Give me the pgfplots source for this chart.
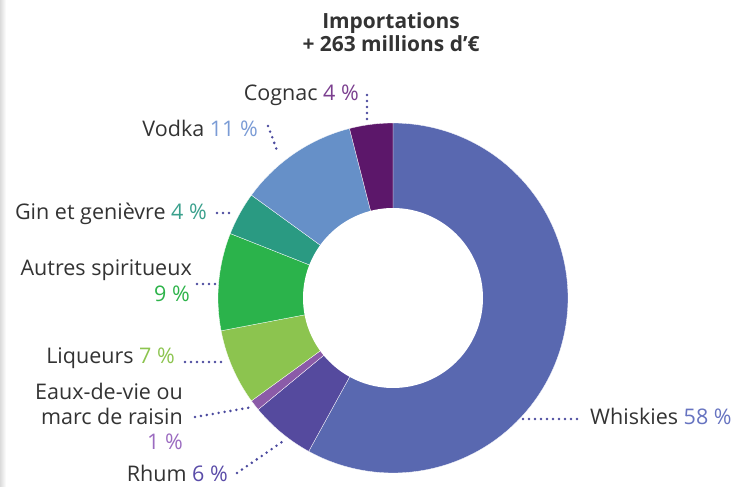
\documentclass[border=0pt]{standalone}
\usepackage{pgfplots}
\pgfplotsset{compat=1.18}
\usepackage{fontspec}
\setmainfont{Open Sans}
\definecolor{cWhisk}{HTML}{5968B0}
\definecolor{cRhum}{HTML}{554A9E}
\definecolor{cEaux}{HTML}{8B5BA8}
\definecolor{cLiq}{HTML}{8CC44F}
\definecolor{cAutres}{HTML}{2BB34B}
\definecolor{cGin}{HTML}{2A9A82}
\definecolor{cVodka}{HTML}{6690C8}
\definecolor{cCognac}{HTML}{5C176A}
\definecolor{tWhisk}{HTML}{6673C0}
\definecolor{tRhum}{HTML}{5A4CA8}
\definecolor{tEaux}{HTML}{9B6BC0}
\definecolor{tLiq}{HTML}{8CC44F}
\definecolor{tAutres}{HTML}{2DB34A}
\definecolor{tGin}{HTML}{3AA08C}
\definecolor{tVodka}{HTML}{7A9BD5}
\definecolor{tCognac}{HTML}{7B3F8F}
\definecolor{txt}{HTML}{333333}
\definecolor{lead}{HTML}{4B4A9E}
\begin{document}
\begin{tikzpicture}
\path[use as bounding box] (0,0) rectangle (735bp,487bp);
\shade[left color=black!14, right color=white] (0,0) rectangle (6bp,487bp);
\begin{axis}[at={(393bp,189bp)}, anchor=center, scale only axis,
  width=350bp, height=350bp, xmin=-175, xmax=175, ymin=-175, ymax=175,
  hide axis, clip=false]
% slices: domain = cumulative percentage, clockwise from top
\addplot[fill=cWhisk, draw=white, line width=0.3pt, domain=0:58, samples=120]  ({175*cos(90-3.6*x)},{175*sin(90-3.6*x)}) -- (axis cs:0,0) -- cycle;
\addplot[fill=cRhum, draw=white, line width=0.3pt, domain=58:64, samples=30]  ({175*cos(90-3.6*x)},{175*sin(90-3.6*x)}) -- (axis cs:0,0) -- cycle;
\addplot[fill=cEaux, draw=white, line width=0.3pt, domain=64:65, samples=10]  ({175*cos(90-3.6*x)},{175*sin(90-3.6*x)}) -- (axis cs:0,0) -- cycle;
\addplot[fill=cLiq, draw=white, line width=0.3pt, domain=65:72, samples=30]  ({175*cos(90-3.6*x)},{175*sin(90-3.6*x)}) -- (axis cs:0,0) -- cycle;
\addplot[fill=cAutres, draw=white, line width=0.3pt, domain=72:81, samples=30]  ({175*cos(90-3.6*x)},{175*sin(90-3.6*x)}) -- (axis cs:0,0) -- cycle;
\addplot[fill=cGin, draw=white, line width=0.3pt, domain=81:85, samples=20]  ({175*cos(90-3.6*x)},{175*sin(90-3.6*x)}) -- (axis cs:0,0) -- cycle;
\addplot[fill=cVodka, draw=white, line width=0.3pt, domain=85:96, samples=40]  ({175*cos(90-3.6*x)},{175*sin(90-3.6*x)}) -- (axis cs:0,0) -- cycle;
\addplot[fill=cCognac, draw=white, line width=0.3pt, domain=96:100, samples=20]  ({175*cos(90-3.6*x)},{175*sin(90-3.6*x)}) -- (axis cs:0,0) -- cycle;
\addplot[fill=white, draw=none, domain=0:360, samples=150] ({90*cos(x)},{90*sin(x)}) -- cycle;
\end{axis}
\begin{scope}[x=1bp, y=-1bp, shift={(0,487bp)}]
\begin{scope}[font=\fontsize{21.6}{24}\selectfont, text=txt, inner sep=0pt]
\node[anchor=base] at (391,29) {\fontsize{21}{24}\selectfont\bfseries Importations};
\node[anchor=base] at (391,52) {\fontsize{21}{24}\selectfont\bfseries + 263 millions d’€};
\node[anchor=base east] at (359,101) {Cognac \textcolor{tCognac}{4 \%}};
\node[anchor=base east] at (258,137) {Vodka \textcolor{tVodka}{11 \%}};
\node[anchor=base east] at (207,220) {Gin et genièvre \textcolor{tGin}{4 \%}};
\node[anchor=base east] at (192,276) {Autres spiritueux};
\node[anchor=base east] at (190,302) {\textcolor{tAutres}{9 \%}};
\node[anchor=base east] at (175,364) {Liqueurs \textcolor{tLiq}{7 \%}};
\node[anchor=base east] at (183,400) {Eaux-de-vie ou};
\node[anchor=base east] at (183,425) {marc de raisin};
\node[anchor=base east] at (183,450) {\textcolor{tEaux}{1 \%}};
\node[anchor=base east] at (228,482) {Rhum \textcolor{tRhum}{6 \%}};
\node[anchor=base west] at (590,425) {Whiskies \textcolor{tWhisk}{58 \%}};
\end{scope}
\begin{scope}[draw=lead, line width=2.8bp, line cap=round, dash pattern=on 0pt off 6bp]
\draw (367,95) -- (367,123);
\draw (268,126) -- (278,153);
\draw (217,213) -- (235,213);
\draw (197,284) -- (216,284);
\draw (185,362) -- (225,362);
\draw (195,417) -- (253,407);
\draw (237,473) -- (282,442);
\draw (523,419) -- (578,419);
\end{scope}
\end{scope}
\end{tikzpicture}
\end{document}
